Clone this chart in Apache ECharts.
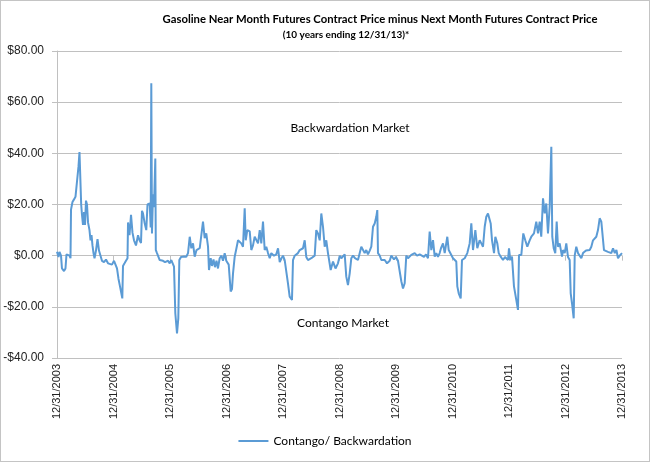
<!DOCTYPE html>
<html>
<head>
<meta charset="utf-8">
<script src="https://cdn.jsdelivr.net/npm/echarts@6/dist/echarts.min.js"></script>
<style>
  html, body { margin: 0; padding: 0; background: #fff; }
  #main { position: absolute; left: 0; top: 0; width: 650px; height: 462px; }
  #frame { position: absolute; left: 0; top: 0; width: 648px; height: 460px; border: 1px solid #c4c4c4; pointer-events: none; }
</style>
</head>
<body>
<div id="main"></div>
<div id="frame"></div>
<script>
// time as decimal year (2004.0 = 12/31/2003), value = near month minus next month ($)
var yearPos = [
  2004.000, 2004.027, 2004.044, 2004.071, 2004.088, 2004.124, 2004.150, 2004.168, 2004.195, 2004.221,
  2004.239, 2004.248, 2004.274, 2004.301, 2004.327, 2004.354, 2004.381, 2004.398, 2004.416, 2004.428,
  2004.442, 2004.460, 2004.478, 2004.496, 2004.513, 2004.531, 2004.549, 2004.575, 2004.593, 2004.611,
  2004.628, 2004.646, 2004.664, 2004.690, 2004.717, 2004.743, 2004.770, 2004.796, 2004.832, 2004.867,
  2004.903, 2004.938, 2004.973, 2005.009, 2005.044, 2005.062, 2005.088, 2005.115, 2005.156, 2005.168,
  2005.195, 2005.221, 2005.248, 2005.257, 2005.283, 2005.310, 2005.336, 2005.363, 2005.398, 2005.434,
  2005.460, 2005.487, 2005.504, 2005.522, 2005.549, 2005.580, 2005.602, 2005.641, 2005.658, 2005.669,
  2005.681, 2005.699, 2005.717, 2005.740, 2005.749, 2005.770, 2005.818, 2005.841, 2005.876, 2005.912,
  2005.947, 2005.965, 2005.995, 2006.023, 2006.071, 2006.094, 2006.124, 2006.147, 2006.165, 2006.195,
  2006.248, 2006.288, 2006.319, 2006.349, 2006.377, 2006.407, 2006.437, 2006.469, 2006.526, 2006.558,
  2006.584, 2006.614, 2006.642, 2006.673, 2006.690, 2006.720, 2006.743, 2006.770, 2006.796, 2006.823,
  2006.849, 2006.879, 2006.911, 2006.938, 2006.968, 2006.996, 2007.039, 2007.074, 2007.097, 2007.115,
  2007.145, 2007.177, 2007.204, 2007.234, 2007.262, 2007.292, 2007.322, 2007.340, 2007.368, 2007.411,
  2007.439, 2007.469, 2007.499, 2007.558, 2007.588, 2007.616, 2007.646, 2007.676, 2007.704, 2007.735,
  2007.765, 2007.793, 2007.841, 2007.881, 2007.912, 2007.942, 2007.973, 2008.000, 2008.030, 2008.058,
  2008.088, 2008.118, 2008.159, 2008.177, 2008.207, 2008.265, 2008.296, 2008.354, 2008.384, 2008.412,
  2008.442, 2008.501, 2008.531, 2008.561, 2008.589, 2008.619, 2008.650, 2008.678, 2008.708, 2008.738,
  2008.766, 2008.796, 2008.827, 2008.844, 2008.885, 2008.929, 2008.973, 2009.004, 2009.032, 2009.092,
  2009.120, 2009.150, 2009.180, 2009.209, 2009.239, 2009.274, 2009.327, 2009.358, 2009.386, 2009.416,
  2009.446, 2009.474, 2009.504, 2009.535, 2009.563, 2009.593, 2009.623, 2009.651, 2009.669, 2009.681,
  2009.712, 2009.740, 2009.770, 2009.800, 2009.841, 2009.889, 2009.917, 2009.965, 2010.000, 2010.035,
  2010.065, 2010.094, 2010.124, 2010.154, 2010.182, 2010.212, 2010.271, 2010.331, 2010.372, 2010.419,
  2010.448, 2010.496, 2010.531, 2010.566, 2010.596, 2010.625, 2010.655, 2010.685, 2010.713, 2010.743,
  2010.773, 2010.796, 2010.832, 2010.862, 2010.908, 2010.933, 2010.968, 2011.009, 2011.039, 2011.067,
  2011.085, 2011.110, 2011.145, 2011.168, 2011.216, 2011.262, 2011.304, 2011.333, 2011.363, 2011.404,
  2011.439, 2011.481, 2011.510, 2011.540, 2011.570, 2011.598, 2011.628, 2011.658, 2011.676, 2011.699,
  2011.735, 2011.758, 2011.793, 2011.818, 2011.853, 2011.894, 2011.929, 2011.982, 2012.000, 2012.023,
  2012.053, 2012.088, 2012.129, 2012.159, 2012.177, 2012.218, 2012.253, 2012.288, 2012.324, 2012.366,
  2012.395, 2012.442, 2012.483, 2012.513, 2012.543, 2012.571, 2012.602, 2012.632, 2012.660, 2012.690,
  2012.720, 2012.749, 2012.766, 2012.791, 2012.819, 2012.844, 2012.867, 2012.897, 2012.938, 2012.956,
  2012.986, 2013.014, 2013.044, 2013.074, 2013.092, 2013.115, 2013.145, 2013.163, 2013.191, 2013.221,
  2013.280, 2013.310, 2013.363, 2013.428, 2013.457, 2013.487, 2013.517, 2013.545, 2013.575, 2013.605,
  2013.634, 2013.664, 2013.681, 2013.712, 2013.752, 2013.811, 2013.841, 2013.873, 2013.901, 2013.929,
  2013.959, 2014.000
];
var spread = [
  1.5, -0.5, 1.5, 0, -5, -6, -5, 0.5, 1, 0,
  -1, 18, 21, 22, 23, 29, 35, 40.5, 40, 20,
  16, 12, 17, 12, 21.5, 20, 13, 10, 6, 8,
  4, 1, -1, 2, 6.5, 2, 0, -2, -2.5, -1.5,
  -3, -2.5, -3.5, -2, -2.5, -5, -9, -12, -16.7, -4,
  -3, -2, -1, 13, 8, 16, 9, 6, 4, 8,
  6, 5, 17.5, 16.5, 13, 10, 20, 20.4, 11, 67.4,
  8.7, 24, 19, 38, 2.2, 1, -1.7, -1.5, -2, -2.5,
  -3, -2, -3, -1.7, -4.3, -22.5, -30.4, -24.5, -1.7, -0.5,
  -0.3, -0.4, 1, 7.4, 2.9, 4.8, -0.4, 2.2, 2.9, 3.5,
  13.3, 6.8, 8.7, 3.5, -5.6, -1, -4, -1.5, -4.5, -2,
  -5, -1, 0, -2, 1, -2, -3.5, -14, -13, -7,
  -0.4, 3, 6, 5.5, 4.8, 3.5, 18.5, 6, 10, 9.5,
  2.2, 4, 7.4, 4.8, 10, 4.8, 13.3, 2.2, 3.5, 1,
  -1, 1, 0, 0.5, 2.9, -2.5, -1, 0, -1.7, -2.3,
  -10.8, -16, -17.3, -1.7, 0, 1, 2.2, 2.9, 6, -0.5,
  -1.7, -1, -1, 0, 10, 8.7, 6, 16.5, 11.3, 3.5,
  6, 1, 1, -5.6, -2.3, -5, -3, 0, -1, 0.5,
  -8.2, -11.5, -7, -1, 0, -1, -1.7, 1, 3.5, 3.5,
  1, 2.2, 0.5, 2, 3.5, 11.3, 12.6, 15.2, 17.8, 1,
  0, -1.7, -1, -1.7, -3, -2, 0, -1.5, -0.5, -2,
  -1.7, -10, -12.8, -10.8, 0, -1, 0.3, 1, 0, 0.5,
  1.2, -0.5, 0.5, -1, 9.4, 2.2, 6.1, -0.4, 1, -0.5,
  1, 2.9, 4.8, 1, 7.4, 2.2, 2.2, -1, -1.7, -2.3,
  -12, -14.7, -16.7, -1.7, -1, 1, 4.8, 12.6, 2.2, 10,
  2.9, 6, 4.8, 3.5, 11.3, 15.2, 16.5, 16, 12.6, 6.1,
  1, 7.4, 4.8, 1, -0.4, -1.7, -0.5, -1.7, 2.9, -1.7,
  -0.4, -12, -17.3, -21.2, 0.3, 0.3, 8.7, 6, 3.5, 6,
  7.4, 8.7, 13.3, 8.7, 13.3, 7.4, 22.4, 16.5, 20.4, 8.7,
  19.1, 42.6, 7.4, 2.9, 1, 13.3, 3.5, 4.8, -0.4, 2.2,
  1, 4.8, -0.5, -1.7, -14.7, -18.6, -24.5, 0, 3.5, 1,
  -1, 1, 2, 2.2, 3.5, 6, 6, 7.4, 10, 14.6,
  13.3, 13.3, 2.2, 2.2, 1.5, 1, 2.9, 1, 2.2, -1,
  0, 1
];
var seriesName = 'Contango/ Backwardation';
var titleText = 'Gasoline Near Month Futures Contract Price minus Next Month Futures Contract Price';
var subText = '(10 years ending 12/31/13)*';

var points = yearPos.map(function (t, i) { return [t, spread[i]]; });

var myChart = echarts.init(document.getElementById('main'));

var option = {
    animation: false,
    textStyle: { fontFamily: 'Liberation Sans' },
    grid: { left: 57, right: 28, top: 51, bottom: 104 },
    legend: {
        data: [seriesName],
        left: 'center',
        top: 430,
        icon: 'rect',
        itemWidth: 30,
        itemHeight: 2,
        itemGap: 4,
        textStyle: { fontFamily: 'Lato', fontSize: 12, color: '#000' }
    },
    graphic: [
        { type: 'text', style: { text: titleText, x: 380, y: 19, font: 'bold 11.3px Lato', fill: '#000', textAlign: 'center', textVerticalAlign: 'middle' } },
        { type: 'text', style: { text: subText, x: 346, y: 35, font: 'bold 10px Lato', fill: '#000', textAlign: 'center', textVerticalAlign: 'middle' } },
        { type: 'text', style: { text: 'Backwardation Market', x: 350, y: 128, font: '12px Lato', fill: '#000', textAlign: 'center', textVerticalAlign: 'middle' } },
        { type: 'text', style: { text: 'Contango Market', x: 343, y: 323, font: '12px Lato', fill: '#000', textAlign: 'center', textVerticalAlign: 'middle' } }
    ],
    xAxis: {
        type: 'value',
        min: 2004,
        max: 2014,
        interval: 1,
        axisLine: { lineStyle: { color: '#c0c0c0', width: 1 } },
        axisTick: { show: true, length: 5, lineStyle: { color: '#c0c0c0' } },
        splitLine: { show: false },
        axisLabel: {
            rotate: 90,
            margin: 6,
            fontSize: 11,
            color: '#222',
            formatter: function (v) { return '12/31/' + (v - 1); }
        }
    },
    yAxis: {
        type: 'value',
        min: -40,
        max: 80,
        interval: 20,
        axisLine: { show: true, lineStyle: { color: '#c0c0c0', width: 1 } },
        axisTick: { show: true, length: 5, lineStyle: { color: '#c0c0c0' } },
        splitLine: { lineStyle: { color: '#c0c0c0', width: 1 } },
        axisLabel: {
            margin: 13,
            fontSize: 12,
            color: '#222',
            formatter: function (v) { return (v < 0 ? '-$' : '$') + Math.abs(v).toFixed(2); }
        }
    },
    series: [
        {
            name: seriesName,
            type: 'line',
            data: points,
            symbol: 'none',
            lineStyle: { color: '#5b9bd5', width: 2 },
            itemStyle: { color: '#5b9bd5' }
        }
    ]
};

myChart.setOption(option);
</script>
</body>
</html>
